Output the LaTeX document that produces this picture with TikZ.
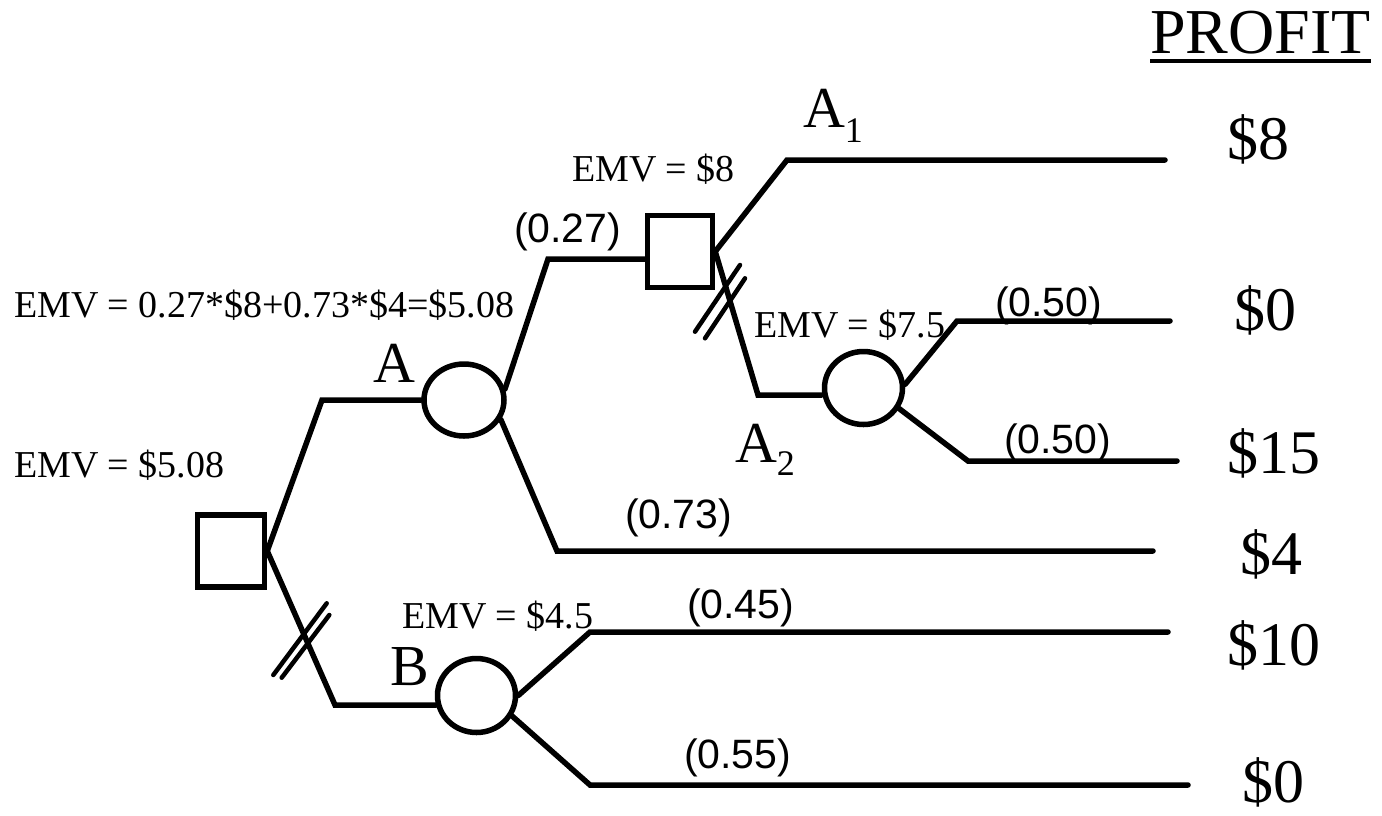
\documentclass[tikz,border=0pt]{standalone}
\usepackage{fontspec}
\setmainfont{Liberation Serif}
\newfontfamily\labsans{Liberation Sans}
\usetikzlibrary{shapes.geometric}
\newcommand\fsz[1]{\fontsize{#1}{#1}\selectfont}
\tikzset{
  branch/.style={line width=5.5pt, line cap=round, line join=miter},
  hashmark/.style={line width=4.5pt, line cap=round},
  decision/.style={draw, line width=5.5pt, rectangle, inner sep=0pt},
  chance/.style={draw, line width=5.5pt, ellipse, inner sep=0pt},
  txt/.style={anchor=base west, inner sep=0pt, outer sep=0pt},
  emv/.style={txt, font=\fsz{38}},
  val/.style={txt, font=\fsz{62}},
  prob/.style={txt, font=\labsans\fsz{41}},
  big/.style={txt, font=\fsz{58}}
}
\begin{document}
\begin{tikzpicture}[x=1pt, y=-1pt]
\useasboundingbox (0,0) rectangle (1382,815);
% decision and chance nodes
\node[decision, minimum width=67pt, minimum height=72pt] (root) at (231,551) {};
\node[decision, minimum width=65pt, minimum height=72pt] (sqtwo) at (680,251.5) {};
\node[chance, minimum width=80pt, minimum height=72pt] (circA) at (464,400) {};
\node[chance, minimum width=78pt, minimum height=74pt] (circB) at (476.5,695.5) {};
\node[chance, minimum width=78pt, minimum height=73pt] (circC) at (863.5,388) {};
% bend points and free ends
\coordinate (rA) at (322,400);
\coordinate (rB) at (335,705);
\coordinate (aU) at (548,259);
\coordinate (aL) at (557,551);
\coordinate (sU) at (787,160);
\coordinate (sL) at (758,395);
\coordinate (cU) at (957,321);
\coordinate (cL) at (968,461);
\coordinate (bU) at (590,632);
\coordinate (bL) at (590,785);
\coordinate (e8) at (1165,160);
\coordinate (e0a) at (1170,321);
\coordinate (e15) at (1177,461);
\coordinate (e4) at (1153,551);
\coordinate (e10) at (1168,632);
\coordinate (e0b) at (1188,785);
% connectors
\draw[branch] (root.east) -- (rA) -- (circA.west);
\draw[branch] (root.east) -- (rB) -- (rB -| circB.195);
\draw[branch] (circA.15) -- (aU) -- (aU -| sqtwo.west);
\draw[branch] (circA.-28) -- (aL) -- (e4);
\draw[branch] (sqtwo.east) -- (sU) -- (e8);
\draw[branch] (sqtwo.east) -- (sL) -- (sL -| circC.west);
\draw[branch] (circC.5) -- (cU) -- (e0a);
\draw[branch] (circC.-30) -- (cL) -- (e15);
\draw[branch] (circB.east) -- (bU) -- (e10);
\draw[branch] (circB.-30) -- (bL) -- (e0b);
% hash marks
\draw[hashmark] (273.3,675) -- (326.7,603.3);
\draw[hashmark] (281.7,677.7) -- (329.3,615);
\draw[hashmark] (695,331.7) -- (740,265);
\draw[hashmark] (705,338.3) -- (745,278.3);
% texts
\node[txt, font=\fsz{64}] (profit) at (1150,53) {PROFIT};
\draw[line width=4pt] (profit.base west) ++(0,8) coordinate (ul) -- (ul -| profit.base east);
\node[val] (v8) at (1227,159) {\$8};
\node[val] (v0a) at (1234,330) {\$0};
\node[val] (v15) at (1227,473) {\$15};
\node[val] (v4) at (1240,574) {\$4};
\node[val] (v10) at (1227,665) {\$10};
\node[val] (v0b) at (1242,802) {\$0};
\node[emv] (emvS) at (572,181) {EMV = \$8};
\node[emv] (emvA) at (14,317) {EMV = 0.27*\$8+0.73*\$4=\$5.08};
\node[emv] (emvR) at (14,477) {EMV = \$5.08};
\node[emv] (emvC) at (754,337) {EMV = \$7.5};
\node[emv] (emvB) at (402,628) {EMV = \$4.5};
\node[prob] (p27) at (514,242) {(0.27)};
\node[prob] (p50a) at (995,316) {(0.50)};
\node[prob] (p50b) at (1004,453) {(0.50)};
\node[prob] (p73) at (625,528) {(0.73)};
\node[prob] (p45) at (687,618) {(0.45)};
\node[prob] (p55) at (684,768) {(0.55)};
\node[big] (lA) at (373,382) {A};
\node[big] (lB) at (390,685) {B};
\node[big] (lAone) at (803,127) {A\raisebox{-15pt}{\fsz{36}1}};
\node[big] (lAtwo) at (735,462) {A\raisebox{-13pt}{\fsz{36}2}};
\end{tikzpicture}
\end{document}
